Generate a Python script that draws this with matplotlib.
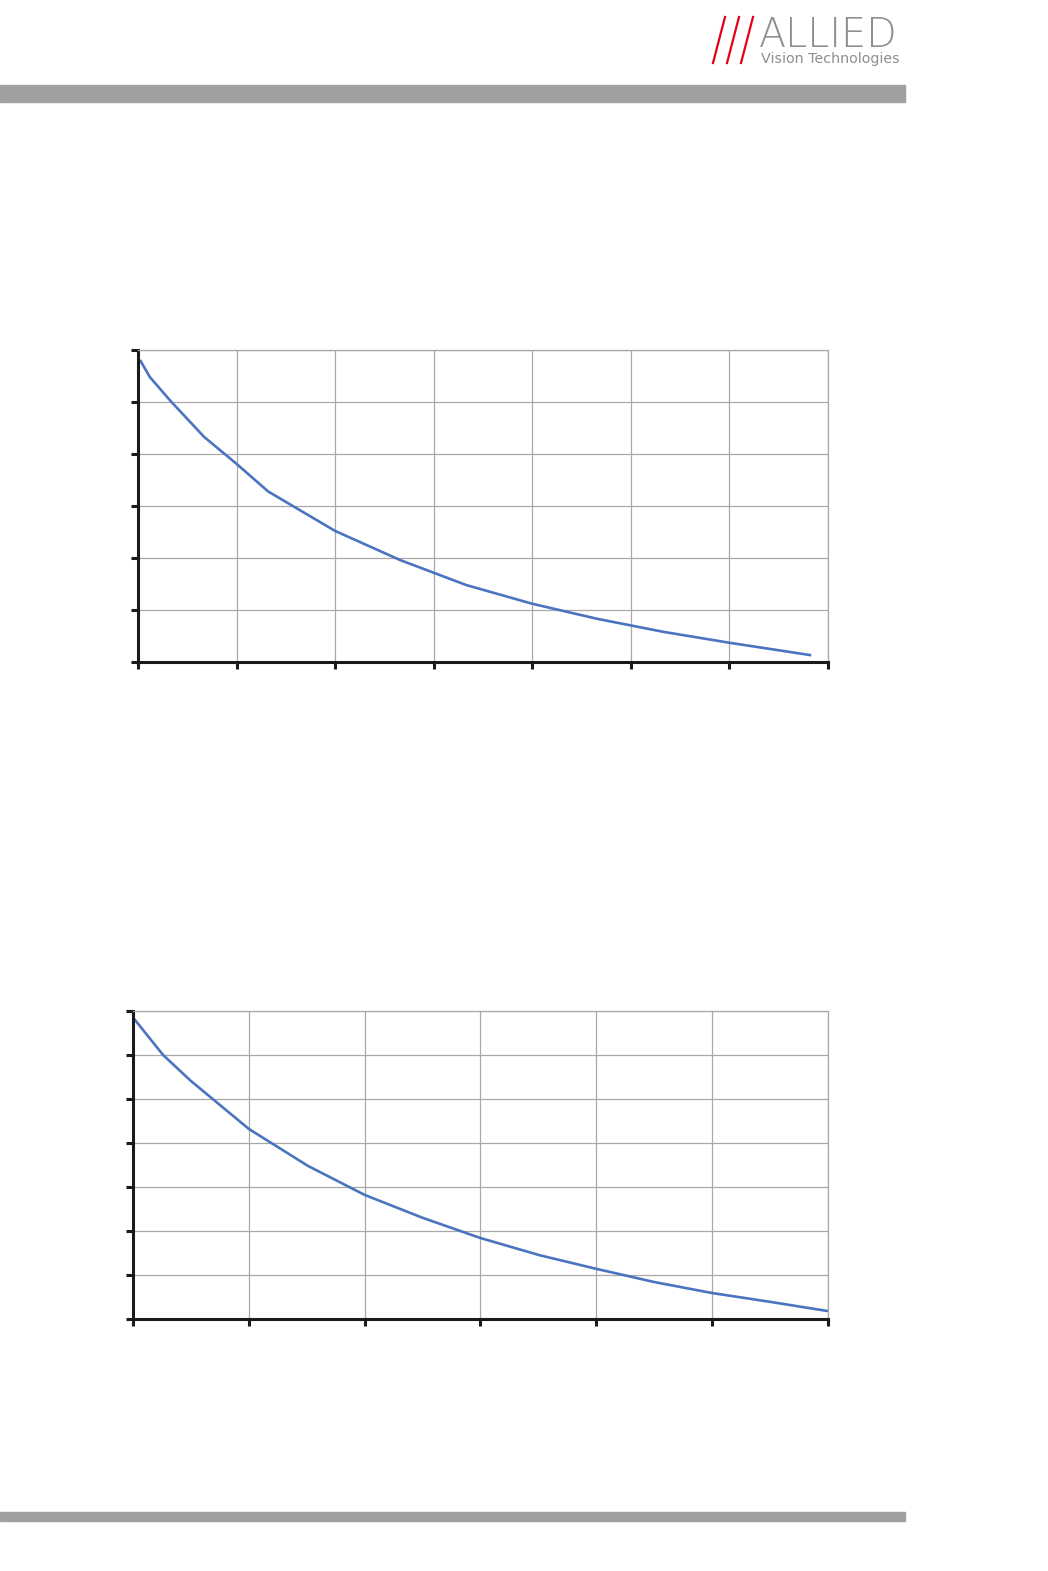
import matplotlib.pyplot as plt
from matplotlib.lines import Line2D
from matplotlib.patches import Rectangle

# upper chart: curve (x in grid units 0..7, y in grid units 0..6)
top_x = [0.02, 0.12, 0.33, 0.67, 1.0, 1.32, 2.0, 2.66, 3.33, 4.0, 4.66, 5.33, 6.0, 6.83]
top_y = [5.81, 5.48, 5.02, 4.33, 3.81, 3.28, 2.52, 1.96, 1.48, 1.12, 0.83, 0.58, 0.37, 0.13]

# lower chart: x in grid units 0..6, y in grid units 0..7
bot_x = [0.01, 0.26, 0.5, 1.0, 1.51, 2.0, 2.5, 3.0, 3.51, 4.0, 4.5, 5.0, 5.5, 6.0]
bot_y = [6.82, 6.0, 5.41, 4.32, 3.48, 2.82, 2.30, 1.84, 1.45, 1.14, 0.84, 0.59, 0.39, 0.18]

LINE_BLUE = '#4a74bf'
GRID_GRAY = '#a8a8a8'
BAR_GRAY = '#a0a0a0'
LOGO_GRAY = '#8e8e8e'

W, H = 1048, 1571
fig = plt.figure(figsize=(W / 100, H / 100), dpi=100)


def px_rect(x0, y0, x1, y1):
    """pixel box (top-left origin) -> figure fraction [l, b, w, h]"""
    return [x0 / W, 1 - y1 / H, (x1 - x0) / W, (y1 - y0) / H]


def make_chart(box, xs, ys, nx, ny):
    ax = fig.add_axes(px_rect(*box))
    ax.plot(xs, ys, color=LINE_BLUE, linewidth=1.9, solid_capstyle='butt')
    ax.set_xlim(0, nx)
    ax.set_ylim(0, ny)
    ax.set_xticks(range(nx + 1))
    ax.set_yticks(range(ny + 1))
    ax.set_xticklabels([])
    ax.set_yticklabels([])
    ax.grid(True, color=GRID_GRAY, linewidth=0.9)
    ax.set_axisbelow(True)
    for side in ['top', 'right']:
        ax.spines[side].set_color(GRID_GRAY)
        ax.spines[side].set_linewidth(0.9)
    for side in ['left', 'bottom']:
        ax.spines[side].set_color('#1a1a1a')
        ax.spines[side].set_linewidth(2.2)
    ax.tick_params(direction='out', length=5, width=2.2, color='#1a1a1a')
    return ax


make_chart((138, 350, 828, 662), top_x, top_y, 7, 6)
make_chart((133, 1011, 828, 1319), bot_x, bot_y, 6, 7)

# header / footer bars
fig.patches.append(Rectangle(px_rect(0, 85, 905, 102)[:2], 905 / W, 17 / H,
                             transform=fig.transFigure, color=BAR_GRAY, zorder=0))
fig.patches.append(Rectangle(px_rect(0, 1512, 905, 1521)[:2], 905 / W, 9 / H,
                             transform=fig.transFigure, color=BAR_GRAY, zorder=0))

# logo: three red slashes, "ALLIED", subtitle
for x0 in [713, 727, 741]:
    fig.lines.append(Line2D([x0 / W, (x0 + 12) / W], [1 - 63 / H, 1 - 17 / H],
                            transform=fig.transFigure, color='#e2001a', linewidth=1.6))
fig.text(759 / W, 1 - 47 / H, 'ALLIED', fontsize=28.5, color=LOGO_GRAY,
         family='DejaVu Sans', ha='left', va='baseline', fontweight='light')
fig.text(761 / W, 1 - 63 / H, 'Vision Technologies', fontsize=10.3, color=LOGO_GRAY,
         family='DejaVu Sans', ha='left', va='baseline')

fig.savefig('out.png', dpi=100, facecolor='white')
